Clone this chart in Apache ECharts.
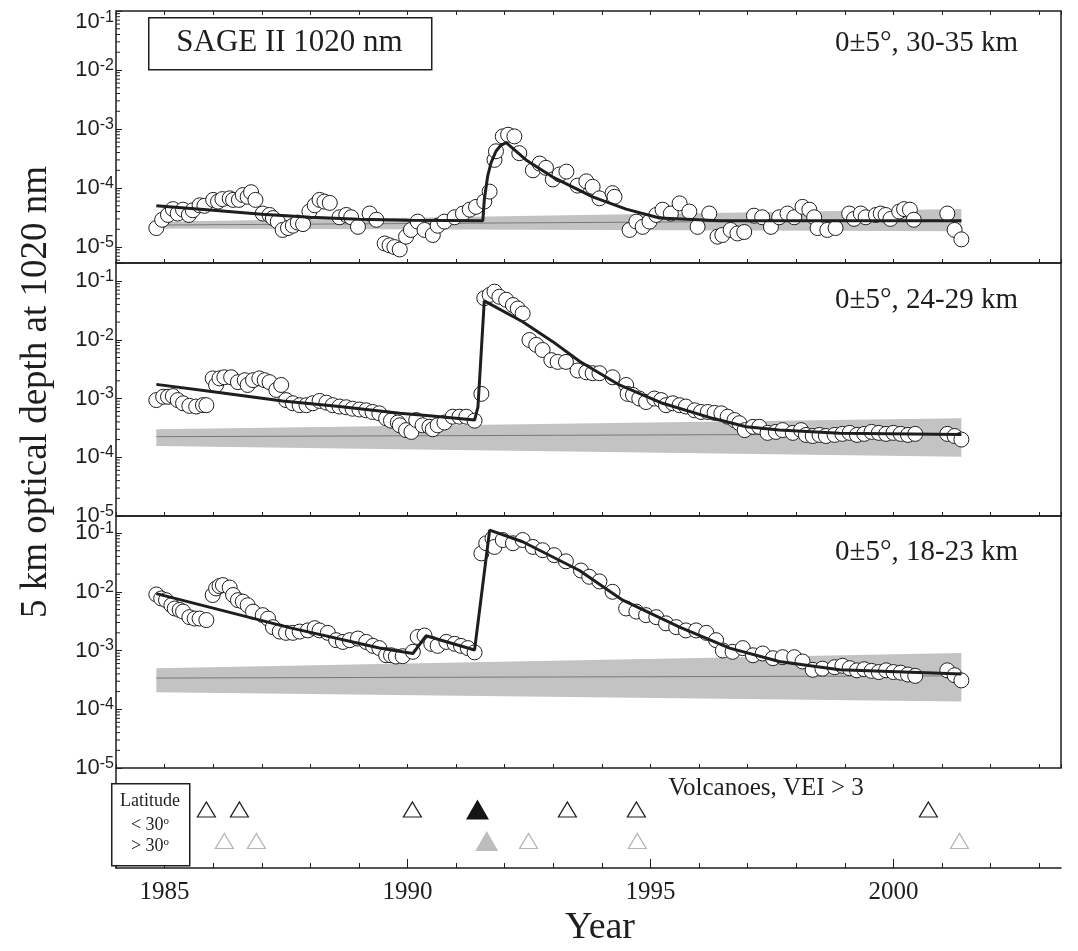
<!DOCTYPE html>
<html>
<head>
<meta charset="utf-8">
<title>SAGE II 1020 nm optical depth</title>
<script src="https://cdn.jsdelivr.net/npm/echarts@6.0.0/dist/echarts.min.js"></script>
<style>
  html, body { margin: 0; padding: 0; background: #fff; }
  #chart { width: 1078px; height: 951px; }
</style>
</head>
<body>
<div id="chart"></div>
<script>
// tick positions on the year axis
const yearTicks = [1984, 1985, 1986, 1987, 1988, 1989, 1990, 1991, 1992, 1993,
  1994, 1995, 1996, 1997, 1998, 1999, 2000, 2001, 2002, 2003];
const yearLabels = [1985, 1990, 1995, 2000];

const panelLabels = ['0±5°, 30-35 km', '0±5°, 24-29 km', '0±5°, 18-23 km'];

// observed optical depth, [year, value]
const obs3035 = [
  [1984.83, 2.1e-5], [1984.95, 2.9e-5], [1985.07, 3.5e-5], [1985.17, 4.4e-5], [1985.27, 3.7e-5],
  [1985.38, 4.3e-5], [1985.50, 3.5e-5], [1985.58, 4.2e-5], [1985.72, 5.1e-5], [1985.82, 5.0e-5],
  [1986.00, 6.3e-5], [1986.10, 5.9e-5], [1986.19, 6.5e-5], [1986.34, 6.7e-5], [1986.41, 6.3e-5],
  [1986.53, 6.3e-5], [1986.61, 7.6e-5], [1986.71, 7.1e-5], [1986.78, 8.5e-5], [1986.87, 6.3e-5],
  [1987.02, 3.7e-5], [1987.16, 3.5e-5], [1987.23, 3.1e-5], [1987.33, 2.7e-5], [1987.43, 1.95e-5],
  [1987.54, 2.1e-5], [1987.64, 2.3e-5], [1987.74, 2.6e-5], [1987.85, 2.45e-5], [1987.98, 4.0e-5],
  [1988.09, 5.1e-5], [1988.19, 6.3e-5], [1988.29, 5.9e-5], [1988.40, 5.6e-5], [1988.60, 3.2e-5],
  [1988.74, 3.5e-5], [1988.84, 3.2e-5], [1988.98, 2.2e-5], [1989.22, 3.7e-5], [1989.36, 2.9e-5],
  [1989.53, 1.15e-5], [1989.63, 1.07e-5], [1989.73, 1.0e-5], [1989.84, 9.1e-6], [1989.97, 1.5e-5],
  [1990.07, 1.95e-5], [1990.21, 2.7e-5], [1990.35, 1.95e-5], [1990.52, 1.6e-5], [1990.62, 2.3e-5],
  [1990.76, 2.7e-5], [1990.97, 3.2e-5], [1991.14, 3.7e-5], [1991.28, 4.3e-5], [1991.41, 4.8e-5],
  [1991.58, 5.9e-5], [1991.69, 8.7e-5], [1991.79, 3.0e-4], [1991.82, 4.2e-4], [1991.96, 7.5e-4],
  [1992.07, 8.0e-4], [1992.20, 7.5e-4], [1992.30, 3.9e-4], [1992.58, 2.0e-4], [1992.72, 2.6e-4],
  [1992.85, 2.2e-4], [1992.99, 1.4e-4], [1993.13, 1.7e-4], [1993.27, 1.9e-4], [1993.50, 1.1e-4],
  [1993.68, 1.3e-4], [1993.81, 1.05e-4], [1993.95, 6.7e-5], [1994.22, 8.2e-5], [1994.26, 7.1e-5],
  [1994.57, 1.95e-5], [1994.71, 2.7e-5], [1994.84, 2.2e-5], [1994.98, 2.7e-5], [1995.12, 3.5e-5],
  [1995.25, 4.3e-5], [1995.42, 3.7e-5], [1995.60, 5.5e-5], [1995.80, 4.0e-5], [1995.97, 2.2e-5],
  [1996.21, 3.7e-5], [1996.38, 1.5e-5], [1996.48, 1.6e-5], [1996.65, 1.95e-5], [1996.79, 1.7e-5],
  [1996.93, 1.8e-5], [1997.13, 3.4e-5], [1997.30, 3.2e-5], [1997.48, 2.2e-5], [1997.65, 3.2e-5],
  [1997.82, 3.7e-5], [1997.96, 3.2e-5], [1998.13, 4.8e-5], [1998.27, 4.3e-5], [1998.37, 3.2e-5],
  [1998.44, 2.1e-5], [1998.64, 1.95e-5], [1998.81, 2.1e-5], [1999.09, 3.7e-5], [1999.19, 3.0e-5],
  [1999.33, 3.7e-5], [1999.43, 3.2e-5], [1999.64, 3.5e-5], [1999.74, 3.7e-5], [1999.84, 3.5e-5],
  [1999.94, 3.0e-5], [2000.12, 4.0e-5], [2000.22, 4.4e-5], [2000.34, 4.3e-5], [2000.42, 2.9e-5],
  [2001.11, 3.7e-5], [2001.26, 1.95e-5], [2001.40, 1.35e-5]
];
const obs2429 = [
  [1984.83, 9.4e-4], [1984.97, 1.07e-3], [1985.07, 1.07e-3], [1985.17, 1.1e-3], [1985.27, 9.4e-4],
  [1985.38, 8.3e-4], [1985.51, 7.5e-4], [1985.65, 7.3e-4], [1985.79, 7.7e-4], [1985.86, 7.7e-4],
  [1985.99, 2.2e-3], [1986.06, 1.7e-3], [1986.13, 2.2e-3], [1986.23, 2.3e-3], [1986.37, 2.3e-3],
  [1986.51, 1.9e-3], [1986.65, 2.05e-3], [1986.71, 1.7e-3], [1986.82, 2.05e-3], [1986.95, 2.2e-3],
  [1987.06, 2.05e-3], [1987.16, 1.9e-3], [1987.30, 1.4e-3], [1987.40, 1.7e-3], [1987.50, 9.4e-4],
  [1987.64, 8.3e-4], [1987.78, 7.7e-4], [1987.92, 7.7e-4], [1988.05, 8.3e-4], [1988.19, 9.1e-4],
  [1988.33, 8.5e-4], [1988.46, 7.7e-4], [1988.60, 7.3e-4], [1988.74, 7.1e-4], [1988.87, 6.7e-4],
  [1989.01, 6.5e-4], [1989.15, 6.3e-4], [1989.28, 5.9e-4], [1989.42, 5.6e-4], [1989.56, 4.6e-4],
  [1989.66, 4.2e-4], [1989.80, 3.9e-4], [1989.84, 3.5e-4], [1989.97, 2.9e-4], [1990.08, 2.7e-4],
  [1990.18, 4.3e-4], [1990.31, 3.5e-4], [1990.45, 3.3e-4], [1990.52, 3.0e-4], [1990.62, 3.5e-4],
  [1990.76, 3.9e-4], [1990.93, 4.9e-4], [1991.07, 4.9e-4], [1991.21, 4.9e-4], [1991.38, 4.2e-4],
  [1991.52, 1.2e-3], [1991.58, 0.051], [1991.69, 0.058], [1991.79, 0.066], [1991.89, 0.054],
  [1992.03, 0.048], [1992.17, 0.039], [1992.27, 0.034], [1992.37, 0.028], [1992.51, 9.9e-3],
  [1992.65, 8.2e-3], [1992.78, 6.7e-3], [1992.96, 4.5e-3], [1993.09, 4.2e-3], [1993.26, 4.2e-3],
  [1993.50, 3.0e-3], [1993.68, 2.8e-3], [1993.81, 2.7e-3], [1993.95, 2.7e-3], [1994.22, 2.3e-3],
  [1994.50, 1.7e-3], [1994.53, 1.2e-3], [1994.64, 1.15e-3], [1994.77, 1.0e-3], [1994.91, 8.7e-4],
  [1995.08, 1.0e-3], [1995.22, 9.4e-4], [1995.32, 7.7e-4], [1995.46, 8.3e-4], [1995.60, 7.7e-4],
  [1995.73, 7.3e-4], [1995.91, 6.3e-4], [1996.04, 5.9e-4], [1996.18, 5.9e-4], [1996.32, 5.7e-4],
  [1996.46, 5.6e-4], [1996.59, 4.9e-4], [1996.73, 4.3e-4], [1996.83, 3.8e-4], [1996.94, 2.9e-4],
  [1997.11, 3.3e-4], [1997.24, 3.3e-4], [1997.41, 2.6e-4], [1997.58, 2.7e-4], [1997.72, 2.9e-4],
  [1997.93, 2.6e-4], [1998.10, 2.9e-4], [1998.20, 2.4e-4], [1998.34, 2.3e-4], [1998.48, 2.4e-4],
  [1998.61, 2.3e-4], [1998.79, 2.4e-4], [1998.95, 2.5e-4], [1999.10, 2.6e-4], [1999.25, 2.4e-4],
  [1999.40, 2.5e-4], [1999.55, 2.7e-4], [1999.70, 2.6e-4], [1999.85, 2.5e-4], [2000.00, 2.6e-4],
  [2000.15, 2.5e-4], [2000.30, 2.4e-4], [2000.45, 2.5e-4], [2001.11, 2.5e-4], [2001.26, 2.3e-4],
  [2001.40, 2.0e-4]
];
const obs1823 = [
  [1984.83, 9.0e-3], [1984.93, 7.7e-3], [1985.03, 7.2e-3], [1985.14, 5.9e-3], [1985.21, 5.2e-3],
  [1985.31, 4.9e-3], [1985.38, 4.6e-3], [1985.51, 3.7e-3], [1985.62, 3.5e-3], [1985.72, 3.5e-3],
  [1985.86, 3.3e-3], [1985.99, 8.8e-3], [1986.06, 0.0114], [1986.13, 0.0125], [1986.20, 0.013],
  [1986.34, 0.0118], [1986.41, 8.8e-3], [1986.51, 7.2e-3], [1986.61, 6.8e-3], [1986.71, 5.9e-3],
  [1986.82, 4.6e-3], [1987.02, 4.0e-3], [1987.13, 3.5e-3], [1987.23, 2.5e-3], [1987.37, 2.1e-3],
  [1987.50, 2.0e-3], [1987.64, 2.0e-3], [1987.78, 2.1e-3], [1987.95, 2.2e-3], [1988.09, 2.4e-3],
  [1988.19, 2.2e-3], [1988.36, 2.0e-3], [1988.53, 1.5e-3], [1988.67, 1.4e-3], [1988.81, 1.5e-3],
  [1988.98, 1.6e-3], [1989.15, 1.4e-3], [1989.29, 1.2e-3], [1989.42, 1.1e-3], [1989.56, 8.3e-4],
  [1989.66, 8.3e-4], [1989.76, 7.9e-4], [1989.90, 8.0e-4], [1990.11, 9.5e-4], [1990.21, 1.7e-3],
  [1990.35, 1.8e-3], [1990.49, 1.3e-3], [1990.62, 1.2e-3], [1990.80, 1.4e-3], [1990.97, 1.3e-3],
  [1991.10, 1.2e-3], [1991.24, 1.1e-3], [1991.38, 9.3e-4], [1991.52, 0.045], [1991.62, 0.067],
  [1991.75, 0.081], [1991.79, 0.058], [1991.96, 0.076], [1992.17, 0.067], [1992.37, 0.076],
  [1992.58, 0.058], [1992.78, 0.051], [1993.02, 0.042], [1993.26, 0.033], [1993.57, 0.023],
  [1993.74, 0.018], [1993.95, 0.015], [1994.22, 0.010], [1994.50, 5.2e-3], [1994.71, 4.6e-3],
  [1994.91, 4.0e-3], [1995.12, 3.7e-3], [1995.32, 2.9e-3], [1995.53, 2.5e-3], [1995.73, 2.2e-3],
  [1995.94, 2.2e-3], [1996.15, 2.0e-3], [1996.35, 1.5e-3], [1996.49, 1.0e-3], [1996.69, 9.5e-4],
  [1996.90, 1.1e-3], [1997.11, 8.3e-4], [1997.31, 8.9e-4], [1997.52, 7.4e-4], [1997.72, 7.7e-4],
  [1997.96, 7.7e-4], [1998.13, 6.5e-4], [1998.34, 4.7e-4], [1998.54, 4.9e-4], [1998.79, 5.2e-4],
  [1998.95, 5.5e-4], [1999.10, 5.0e-4], [1999.25, 4.6e-4], [1999.40, 4.8e-4], [1999.55, 4.5e-4],
  [1999.70, 4.3e-4], [1999.85, 4.6e-4], [2000.00, 4.3e-4], [2000.15, 4.2e-4], [2000.30, 3.9e-4],
  [2000.45, 3.7e-4], [2001.11, 4.6e-4], [2001.26, 3.8e-4], [2001.40, 3.1e-4]
];

// model fits, [year, value]
const fit3035 = [
  [1984.83, 5.0e-5], [1986.0, 4.2e-5], [1987.0, 3.6e-5], [1988.0, 3.2e-5], [1989.0, 2.95e-5],
  [1990.0, 2.85e-5], [1991.55, 2.8e-5], [1991.58, 6.3e-5], [1991.65, 1.6e-4], [1991.72, 2.7e-4],
  [1991.82, 4.2e-4], [1991.92, 5.3e-4], [1992.03, 5.9e-4], [1992.44, 3.0e-4], [1992.98, 1.55e-4],
  [1993.81, 7.1e-5], [1994.5, 4.4e-5], [1995.19, 3.1e-5], [1996.42, 2.8e-5], [2001.4, 2.8e-5]
];
const fit2429 = [
  [1984.83, 1.74e-3], [1986.0, 1.3e-3], [1987.43, 9.1e-4], [1988.6, 7.3e-4], [1989.84, 5.6e-4],
  [1990.45, 5.1e-4], [1991.38, 4.3e-4], [1991.45, 7.2e-4], [1991.58, 0.046], [1992.37, 0.0203],
  [1992.99, 9.3e-3], [1993.54, 4.3e-3], [1994.36, 1.7e-3], [1995.25, 8.3e-4], [1996.28, 4.6e-4],
  [1996.97, 3.3e-4], [1997.65, 2.9e-4], [1998.89, 2.56e-4], [2001.4, 2.45e-4]
];
const fit1823 = [
  [1984.83, 9.3e-3], [1987.57, 2.45e-3], [1989.42, 1.1e-3], [1990.11, 8.9e-4], [1990.38, 1.78e-3],
  [1991.38, 1.02e-3], [1991.69, 0.112], [1992.37, 0.071], [1993.54, 0.023], [1994.43, 7.2e-3],
  [1995.60, 2.5e-3], [1996.63, 1.1e-3], [1997.65, 6.5e-4], [1998.89, 4.7e-4], [2001.4, 4.0e-4]
];

// background trend and its uncertainty band
const bandYears = [1984.83, 2001.4];
const band3035Lo = [2.07e-5, 1.86e-5];
const band3035Mid = [2.36e-5, 2.85e-5];
const band3035Hi = [2.69e-5, 4.4e-5];
const band2429Lo = [1.55e-4, 1.02e-4];
const band2429Mid = [2.24e-4, 2.5e-4];
const band2429Hi = [3.0e-4, 4.6e-4];
const band1823Lo = [1.95e-4, 1.35e-4];
const band1823Mid = [3.4e-4, 3.7e-4];
const band1823Hi = [5.0e-4, 9.1e-4];

// volcanic eruptions VEI > 3 (year), by latitude class
const volcLowLat = [1985.86, 1986.54, 1990.10, 1993.29, 1994.71, 2000.72];
const volcLowLatMajor = [1991.44];
const volcHighLat = [1986.23, 1986.89, 1992.49, 1994.73, 2001.36];
const volcHighLatMajor = [1991.63];

const panels = [
  { obs: obs3035, fit: fit3035, lo: band3035Lo, mid: band3035Mid, hi: band3035Hi },
  { obs: obs2429, fit: fit2429, lo: band2429Lo, mid: band2429Mid, hi: band2429Hi },
  { obs: obs1823, fit: fit1823, lo: band1823Lo, mid: band1823Mid, hi: band1823Hi }
];

const SERIF = 'Liberation Serif';
const SANS = 'Liberation Sans';
const INK = '#1e1e1e';
const X_MIN = 1984, X_MAX = 2003.45;
const LEFT = 116, RIGHT = 17;
const panelTop = [11, 263, 516];
const panelHeight = [252, 253, 252];
const panelMin = [Math.pow(10, -5.27), 1e-5, 1e-5];
const panelMax = [0.1, Math.pow(10, -0.693), Math.pow(10, -0.71)];

// "10" with a raised exponent; the label at the very top edge is pushed down a little
function powLabel(panel) {
  return function (v) {
    const e = Math.log10(v);
    const r = Math.round(e);
    if (Math.abs(e - r) > 0.01) return '';
    if (panel === 0 && r === -1) return '{bt|10}{st|' + r + '}';
    return '{b|10}{s|' + r + '}';
  };
}

function minorValues(min, max) {
  const out = [];
  for (let n = -7; n <= 0; n++) {
    for (let k = 2; k <= 9; k++) {
      const v = k * Math.pow(10, n);
      if (v > min && v < max) out.push([X_MIN, v]);
    }
  }
  return out;
}

const grid = [], xAxis = [], yAxis = [], series = [];

panels.forEach((p, i) => {
  grid.push({
    left: LEFT, right: RIGHT, top: panelTop[i], height: panelHeight[i],
    show: true, borderColor: INK, borderWidth: 1.5, backgroundColor: 'transparent'
  });
  xAxis.push({
    type: 'value', gridIndex: i, min: X_MIN, max: X_MAX, interval: 1,
    axisLine: { show: false },
    axisTick: { inside: true, length: 4, lineStyle: { color: INK } },
    axisLabel: { show: false }, splitLine: { show: false }
  });
  yAxis.push({
    type: 'log', logBase: 10, gridIndex: i, min: panelMin[i], max: panelMax[i],
    axisLine: { show: false },
    axisTick: { inside: true, length: 6, lineStyle: { color: INK } },
    splitLine: { show: false },
    axisLabel: {
      margin: 2, formatter: powLabel(i), color: INK,
      rich: {
        b: { fontFamily: SANS, fontSize: 22, color: INK },
        s: { fontFamily: SANS, fontSize: 16, color: INK, padding: [0, 0, 9, 0] },
        bt: { fontFamily: SANS, fontSize: 22, color: INK, padding: [22, 0, 0, 0] },
        st: { fontFamily: SANS, fontSize: 16, color: INK, padding: [22, 0, 9, 0] }
      }
    }
  });

  // uncertainty band
  series.push({
    type: 'custom', xAxisIndex: i, yAxisIndex: i, z: 1, silent: true,
    data: [[bandYears[0], p.mid[0]]],
    renderItem: (params, api) => {
      const top = bandYears.map((yr, k) => api.coord([yr, p.hi[k]]));
      const bot = bandYears.map((yr, k) => api.coord([yr, p.lo[k]])).reverse();
      return { type: 'polygon', shape: { points: top.concat(bot) }, style: { fill: '#c3c3c3' } };
    }
  });
  series.push({
    type: 'line', xAxisIndex: i, yAxisIndex: i, z: 2, silent: true, symbol: 'none',
    data: bandYears.map((yr, k) => [yr, p.mid[k]]),
    lineStyle: { color: '#7a7a7a', width: 1 }
  });
  series.push({
    type: 'scatter', xAxisIndex: i, yAxisIndex: i, z: 3,
    data: p.obs, symbol: 'circle', symbolSize: 15,
    itemStyle: { color: '#fff', borderColor: INK, borderWidth: 1, opacity: 1 }
  });
  series.push({
    type: 'line', xAxisIndex: i, yAxisIndex: i, z: 4, silent: true, symbol: 'none',
    data: p.fit, lineStyle: { color: INK, width: 3 }
  });
  // log minor ticks on the left axis
  series.push({
    type: 'custom', xAxisIndex: i, yAxisIndex: i, z: 5, silent: true,
    data: minorValues(panelMin[i], panelMax[i]),
    renderItem: (params, api) => {
      const pt = api.coord([api.value(0), api.value(1)]);
      return { type: 'line', shape: { x1: pt[0], y1: pt[1], x2: pt[0] + 4, y2: pt[1] }, style: { stroke: INK, lineWidth: 1 } };
    }
  });
});

// ticks along the top frame of the first panel
xAxis.push({
  type: 'value', gridIndex: 0, position: 'top', min: X_MIN, max: X_MAX, interval: 1,
  axisLine: { show: false },
  axisTick: { inside: true, length: 4, lineStyle: { color: INK } },
  axisLabel: { show: false }, splitLine: { show: false }
});

// volcano strip
grid.push({ left: LEFT, right: RIGHT, top: 768, height: 100 });
const vg = 3;
xAxis.push({
  type: 'value', gridIndex: vg, position: 'bottom', min: X_MIN, max: X_MAX,
  axisLine: { show: true, lineStyle: { color: INK, width: 1.5 } },
  axisTick: { inside: true, length: 5, customValues: yearTicks, lineStyle: { color: INK } },
  axisLabel: { show: false }, splitLine: { show: false }
});
xAxis.push({
  type: 'value', gridIndex: vg, position: 'bottom', min: X_MIN, max: X_MAX,
  axisLine: { show: false },
  axisTick: { inside: true, length: 9, customValues: yearLabels, lineStyle: { color: INK } },
  axisLabel: {
    customValues: yearLabels, margin: 12, color: INK,
    fontFamily: SERIF, fontSize: 25, formatter: v => String(v)
  },
  splitLine: { show: false }
});
const volcYIndex = yAxis.length;
yAxis.push({
  type: 'value', gridIndex: vg, min: 0.14, max: 3.32,
  axisLine: { show: true, lineStyle: { color: INK, width: 1.5 } },
  axisTick: { show: false }, axisLabel: { show: false }, splitLine: { show: false }
});
const volcX = xAxis.length - 2;
const tri = (years, row) => years.map(y => [y, row]);
series.push({
  type: 'scatter', xAxisIndex: volcX, yAxisIndex: volcYIndex, z: 3,
  data: tri(volcLowLat, 2), symbol: 'triangle', symbolSize: [18, 15],
  itemStyle: { color: '#fff', borderColor: INK, borderWidth: 1.2, opacity: 1 }
});
series.push({
  type: 'scatter', xAxisIndex: volcX, yAxisIndex: volcYIndex, z: 3,
  data: tri(volcHighLat, 1), symbol: 'triangle', symbolSize: [18, 15],
  itemStyle: { color: '#fff', borderColor: '#b5b5b5', borderWidth: 1.2, opacity: 1 }
});
series.push({
  type: 'scatter', xAxisIndex: volcX, yAxisIndex: volcYIndex, z: 3,
  data: tri(volcLowLatMajor, 2), symbol: 'triangle', symbolSize: [23, 20],
  itemStyle: { color: '#151515', opacity: 1 }
});
series.push({
  type: 'scatter', xAxisIndex: volcX, yAxisIndex: volcYIndex, z: 3,
  data: tri(volcHighLatMajor, 1), symbol: 'triangle', symbolSize: [23, 20],
  itemStyle: { color: '#bdbdbd', opacity: 1 }
});

const labelTops = [43, 300, 552];
const graphic = [
  {
    type: 'rect', left: 148, top: 17, z: 10,
    shape: { width: 283, height: 52 },
    style: { fill: '#fff', stroke: INK, lineWidth: 1.5 }
  },
  {
    type: 'text', x: 289.5, y: 43, z: 11,
    style: { text: 'SAGE II 1020 nm', font: '31px "' + SERIF + '"', fill: INK, align: 'center', verticalAlign: 'middle' }
  },
  {
    type: 'text', x: 36, y: 392, rotation: Math.PI / 2, z: 11,
    style: { text: '5 km optical depth at 1020 nm', font: '37px "' + SERIF + '"', fill: INK, align: 'center', verticalAlign: 'middle' }
  },
  {
    type: 'text', x: 600, y: 928, z: 11,
    style: { text: 'Year', font: '38px "' + SERIF + '"', fill: INK, align: 'center', verticalAlign: 'middle' }
  },
  {
    type: 'text', x: 766, y: 788, z: 11,
    style: { text: 'Volcanoes, VEI > 3', font: '25px "' + SERIF + '"', fill: INK, align: 'center', verticalAlign: 'middle' }
  },
  {
    type: 'rect', left: 111, top: 783, z: 10,
    shape: { width: 78, height: 82 },
    style: { fill: '#fff', stroke: INK, lineWidth: 1.5 }
  },
  {
    type: 'text', x: 150, y: 801, z: 11,
    style: { text: 'Latitude', font: '18px "' + SERIF + '"', fill: INK, align: 'center', verticalAlign: 'middle' }
  },
  {
    type: 'text', x: 150, y: 825, z: 11,
    style: {
      text: '{n|< 30}{o|o}', align: 'center', verticalAlign: 'middle',
      rich: {
        n: { fontFamily: SERIF, fontSize: 18, fill: INK },
        o: { fontFamily: SERIF, fontSize: 11, fill: INK, padding: [0, 0, 8, 0] }
      }
    }
  },
  {
    type: 'text', x: 150, y: 846, z: 11,
    style: {
      text: '{n|> 30}{o|o}', align: 'center', verticalAlign: 'middle',
      rich: {
        n: { fontFamily: SERIF, fontSize: 18, fill: INK },
        o: { fontFamily: SERIF, fontSize: 11, fill: INK, padding: [0, 0, 8, 0] }
      }
    }
  }
];
panelLabels.forEach((t, i) => {
  graphic.push({
    type: 'text', x: 1018, y: labelTops[i], z: 11,
    style: { text: t, font: '29px "' + SERIF + '"', fill: INK, align: 'right', verticalAlign: 'middle' }
  });
});

const chart = echarts.init(document.getElementById('chart'), null, { renderer: 'canvas' });
chart.setOption({
  animation: false,
  backgroundColor: '#fff',
  grid: grid,
  xAxis: xAxis,
  yAxis: yAxis,
  series: series,
  graphic: graphic
});
window.addEventListener('resize', () => chart.resize());
</script>
</body>
</html>
